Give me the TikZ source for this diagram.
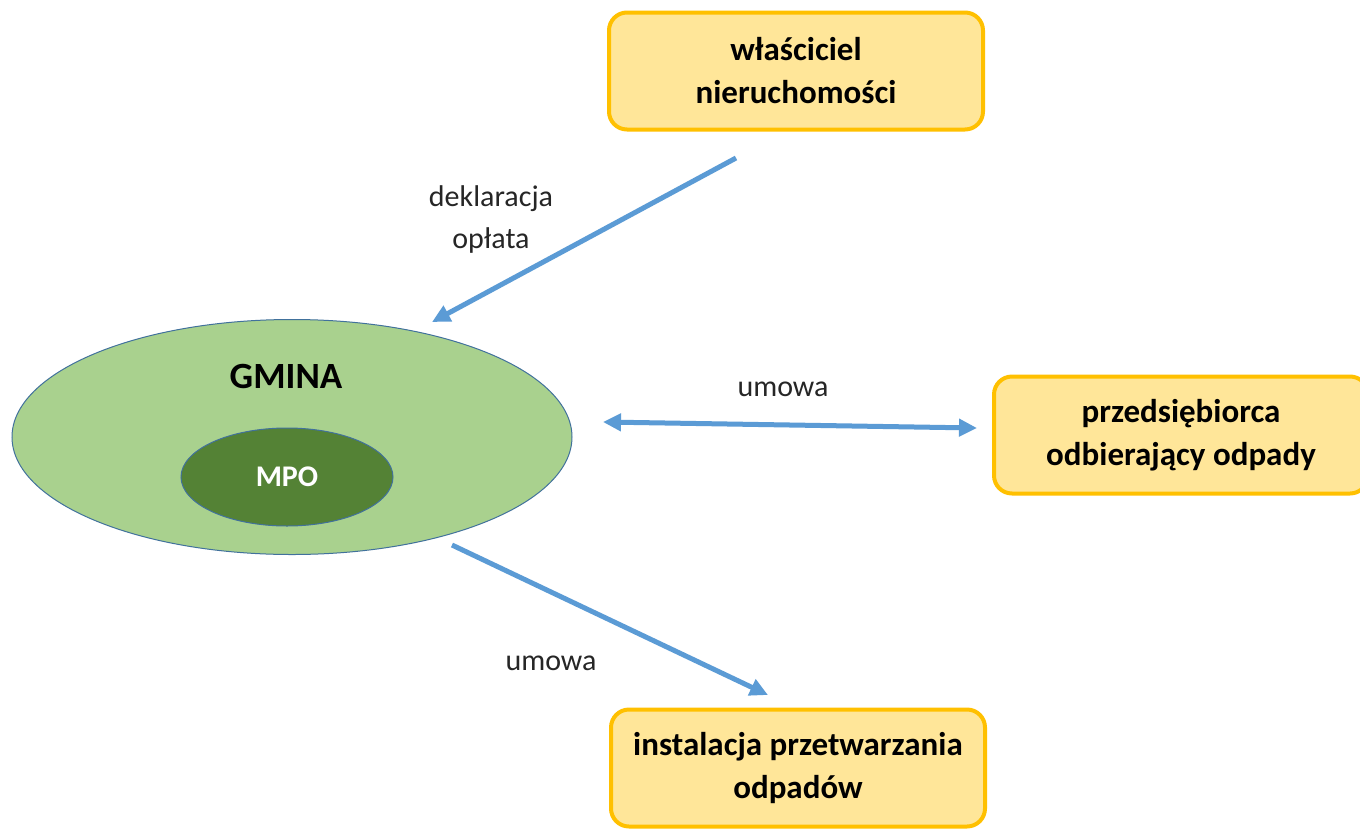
\documentclass[tikz,border=0pt]{standalone}
\usepackage{fontspec}
\setmainfont{Carlito}
\usetikzlibrary{arrows.meta,shapes.geometric}
\definecolor{boxfill}{HTML}{FFE699}
\definecolor{boxline}{HTML}{FFC000}
\definecolor{gminafill}{HTML}{A9D18E}
\definecolor{mpofill}{HTML}{548235}
\definecolor{ellline}{HTML}{41719C}
\definecolor{arrowblue}{HTML}{5B9BD5}
\tikzset{
  actor/.style={draw=boxline, fill=boxfill, line width=4pt, rounded corners=18pt,
    minimum width=374pt, minimum height=117pt, align=center,
    font=\fontsize{33}{43}\selectfont\bfseries},
  flow/.style={draw=arrowblue, line width=5pt, -{Triangle[length=18pt,width=17pt]}},
  flowboth/.style={draw=arrowblue, line width=5pt, {Triangle[length=18pt,width=17pt]}-{Triangle[length=18pt,width=17pt]}},
  lbl/.style={align=center, font=\fontsize{30}{42}\selectfont, text=black!85}
}
\begin{document}
\begin{tikzpicture}[x=1pt,y=-1pt]
\useasboundingbox (0,0) rectangle (1360,828);
\clip (0,0) rectangle (1360,828);
\fill[white] (0,0) rectangle (1360,828);
% ellipses
\node[ellipse, draw=ellline, line width=1pt, fill=gminafill, minimum width=560pt, minimum height=235pt] (gmina) at (292,437) {};
\node[font=\fontsize{37}{44}\selectfont\bfseries] (gminatxt) at (286,376) {GMINA};
\node[ellipse, draw=ellline, line width=1pt, fill=mpofill, minimum width=212pt, minimum height=98pt,
  text=white, font=\fontsize{30}{36}\selectfont\bfseries] (mpo) at (287,477) {MPO};
% boxes
\node[actor] (owner) at (796,71) {właściciel\\nieruchomości};
\node[actor] (collector) at (1181,435) {przedsiębiorca\\odbierający odpady};
\node[actor] (plant) at (798,768) {instalacja przetwarzania\\odpadów};
% arrow endpoints
\coordinate (a1s) at (736,158);
\coordinate (a1e) at (432,322);
\coordinate (a2s) at (603,422);
\coordinate (a2e) at (977,428);
\coordinate (a3s) at (452,545);
\coordinate (a3e) at (768,695);
\draw[flow] (a1s) -- (a1e);
\draw[flowboth] (a2s) -- (a2e);
\draw[flow] (a3s) -- (a3e);
% labels
\node[lbl] (l1) at (491,219) {deklaracja\\opłata};
\node[lbl] (l2) at (783,389) {umowa};
\node[lbl] (l3) at (551,663) {umowa};
\end{tikzpicture}
\end{document}
